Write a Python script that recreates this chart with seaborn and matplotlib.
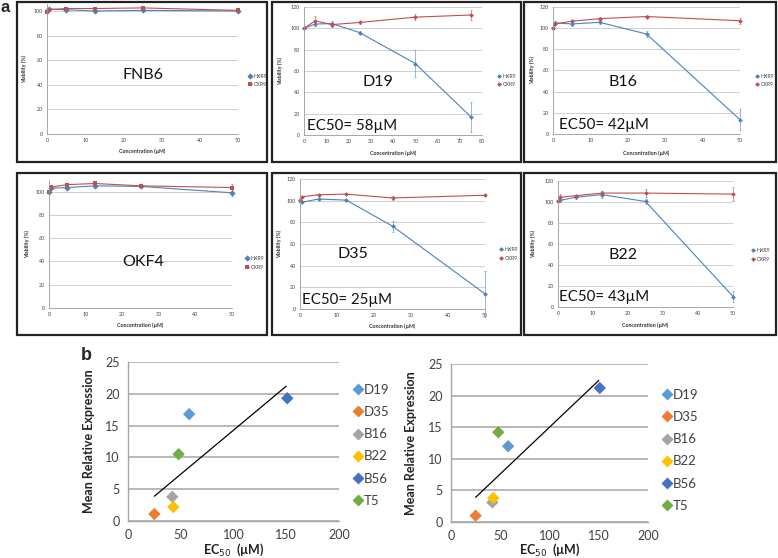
import numpy as np
import pandas as pd
import matplotlib
matplotlib.use("Agg")
from matplotlib import pyplot as plt
from matplotlib.patches import Rectangle
import seaborn as sns

# ---------------- panel a: viability (%) vs concentration (uM) ----------------
conc = [0, 0.5, 5, 12.5, 25, 50]
conc_d19 = [0, 5, 12.5, 25, 50, 75]

fnb6_hxr9 = [100, 101.6, 101, 100, 100.5, 100]
fnb6_hxr9_err = [0.4, 0.5, 0.5, 0.5, 0.5, 0.5]
fnb6_cxr9 = [99.5, 101, 102, 102, 102.5, 100.5]
fnb6_cxr9_err = [0.4, 0.5, 0.5, 0.5, 0.5, 0.5]

d19_hxr9 = [100, 104, 104.5, 96, 67, 17]
d19_hxr9_err = [0.5, 1.5, 2, 1.5, 13, 14]
d19_cxr9 = [100, 107, 103.5, 105.5, 110.5, 112.5]
d19_cxr9_err = [0.5, 4.5, 2, 1, 3, 4.5]

b16_hxr9 = [100, 105, 104, 105.5, 94.5, 13.5]
b16_hxr9_err = [0.5, 1.5, 2, 2, 2.5, 10]
b16_cxr9 = [100, 104, 106.5, 109, 111, 107]
b16_cxr9_err = [0.5, 1, 1, 2, 1, 3]

okf4_hxr9 = [100, 103, 103.5, 105, 104.5, 99]
okf4_hxr9_err = [0.5, 1, 1, 1, 1, 3]
okf4_cxr9 = [100, 104, 106, 107, 105, 103.5]
okf4_cxr9_err = [0.5, 1, 1.5, 1, 1, 3]

d35_hxr9 = [100, 98.5, 101.5, 100.5, 76.5, 14]
d35_hxr9_err = [0.5, 1, 1, 1, 5, 21]
d35_cxr9 = [100.5, 103.5, 105.5, 106, 102.5, 105]
d35_cxr9_err = [0.5, 1, 1, 1, 2, 1]

b22_hxr9 = [100.5, 101.5, 104.5, 107, 100.5, 10]
b22_hxr9_err = [0.5, 1, 2, 3, 2, 5]
b22_cxr9 = [101, 104.5, 106, 108.5, 108.5, 107.5]
b22_cxr9_err = [0.5, 3, 1, 2, 3.5, 7]

# ---------------- panel b: expression vs EC50 ----------------
cell_lines = ["D19", "D35", "B16", "B22", "B56", "T5"]
ec50 = [58, 25, 42, 43, 151, 48]
expr_left = [16.8, 1.1, 3.8, 2.2, 19.3, 10.5]
expr_right = [12.0, 1.0, 3.1, 3.8, 21.2, 14.2]
trend_x = [25, 150]
trend_left = [3.9, 21.2]
trend_right = [3.9, 22.4]
line_colors = ["#5B9BD5", "#ED7D31", "#A5A5A5", "#FFC000", "#4472C4", "#70AD47"]

sns.set_style("white")
plt.rcParams["font.family"] = ["Lato", "DejaVu Sans"]

W, H = 778, 558
fig = plt.figure(figsize=(W / 100, H / 100), dpi=100)


def box(x0, y0, x1, y1):
    return [x0 / W, 1 - y1 / H, (x1 - x0) / W, (y1 - y0) / H]


def fx(x):
    return x / W


def fy(y):
    return 1 - y / H


HX_COL = "#4F81BD"
CX_COL = "#C0504D"


def viability_panel(rect, x, hx, hx_err, cx, cx_err, ymax, xmax, xstep, yticks,
                    name, name_xy, ec_text, ec_xy, leg_xy, ylab_x, xlab_y, cx_marker):
    ax = fig.add_axes(box(*rect))
    n = len(x)
    df = pd.DataFrame({"conc": list(x) * 2, "viability": hx + cx,
                       "series": ["HXR9"] * n + ["CXR9"] * n})
    big = cx_marker == "s"
    sns.lineplot(data=df, x="conc", y="viability", hue="series", style="series",
                 palette={"HXR9": HX_COL, "CXR9": CX_COL},
                 markers={"HXR9": "D", "CXR9": cx_marker}, dashes=False,
                 markersize=3.2 if big else 2.4, markeredgewidth=0, lw=0.8,
                 errorbar=None, sort=False, ax=ax)
    for ln in ax.lines:
        ln.set_clip_on(False)
    ax.errorbar(x, hx, yerr=hx_err, fmt="none", ecolor=HX_COL, elinewidth=0.5,
                capsize=1.0, capthick=0.5, clip_on=False, alpha=0.8)
    ax.errorbar(x, cx, yerr=cx_err, fmt="none", ecolor=CX_COL, elinewidth=0.5,
                capsize=1.0, capthick=0.5, clip_on=False, alpha=0.8)
    ax.set_xlim(0, xmax)
    ax.set_ylim(0, ymax)
    ax.set_xticks(np.arange(0, xmax + 0.1, xstep))
    ax.set_yticks(yticks)
    ax.grid(axis="y", color="#c8c8c8", lw=0.6)
    ax.set_axisbelow(True)
    for s in ["top", "right"]:
        ax.spines[s].set_visible(False)
    for s in ["left", "bottom"]:
        ax.spines[s].set_color("#9a9a9a")
        ax.spines[s].set_linewidth(0.6)
    ax.tick_params(labelsize=3.8, colors="#404040", length=1.5, width=0.5,
                   pad=1.5, direction="out")
    ax.tick_params(axis="both", color="#9a9a9a")
    ax.set_xlabel("Concentration (µM)", fontsize=3.8, fontweight="bold", color="#333333")
    ax.set_ylabel("Viability (%)", fontsize=3.8, fontweight="bold", color="#333333")
    ax.yaxis.set_label_coords(fx(ylab_x), fy((rect[1] + rect[3]) / 2), transform=fig.transFigure)
    ax.xaxis.set_label_coords(fx((rect[0] + rect[2]) / 2), fy(xlab_y), transform=fig.transFigure)
    sns.move_legend(ax, "center left", bbox_to_anchor=(fx(leg_xy[0]), fy(leg_xy[1])),
                    bbox_transform=fig.transFigure, frameon=False, title=None,
                    fontsize=3.8, handlelength=0.6, handletextpad=0.3,
                    labelspacing=0.7, borderpad=0, labelcolor="#404040")
    fig.text(fx(name_xy[0]), fy(name_xy[1]), name, fontsize=11.5, ha="center",
             va="center", color="#111111")
    if ec_text:
        fig.text(fx(ec_xy[0]), fy(ec_xy[1]), ec_text, fontsize=10.8, ha="left",
                 va="center", color="#111111")
    return ax


yt100 = [0, 20, 40, 60, 80, 100]
yt120 = [0, 20, 40, 60, 80, 100, 120]

viability_panel((47, 3.6, 238, 134), conc, fnb6_hxr9, fnb6_hxr9_err, fnb6_cxr9, fnb6_cxr9_err,
                106, 50, 10, yt100, "FNB6", (143, 75), None, None, (246, 80.5), 27, 148, "s")
viability_panel((304, 7, 482, 135), conc_d19, d19_hxr9, d19_hxr9_err, d19_cxr9, d19_cxr9_err,
                120, 80, 10, yt120, "D19", (378, 82), "EC50= 58µM", (307, 126), (495, 80.5), 283, 150, "D")
viability_panel((553, 7, 740, 134), conc, b16_hxr9, b16_hxr9_err, b16_cxr9, b16_cxr9_err,
                120, 50, 10, yt120, "B16", (623, 82), "EC50= 42µM", (559, 125), (753, 80.5), 535, 150, "D")
viability_panel((49, 180, 232, 308), conc, okf4_hxr9, okf4_hxr9_err, okf4_cxr9, okf4_cxr9_err,
                110, 50, 10, yt100, "OKF4", (143, 262), None, None, (243, 263), 30, 322, "s")
viability_panel((300, 179, 485, 309), conc, d35_hxr9, d35_hxr9_err, d35_cxr9, d35_cxr9_err,
                120, 50, 10, yt120, "D35", (353, 254), "EC50= 25µM", (302, 300), (497, 254), 282, 323, "D")
viability_panel((558, 181, 733, 307), conc, b22_hxr9, b22_hxr9_err, b22_cxr9, b22_cxr9_err,
                120, 50, 10, yt120, "B22", (623, 255), "EC50= 43µM", (559, 297), (749, 255), 536, 322, "D")

# frames around the six viability plots
for (x0, y0, x1, y1) in [(17, 2, 267, 162), (272, 2, 521, 162), (524, 2, 776, 162),
                         (17, 173, 267, 335), (272, 173, 521, 335), (524, 173, 776, 335)]:
    fig.add_artist(Rectangle((fx(x0), fy(y1)), (x1 - x0) / W, (y1 - y0) / H,
                             transform=fig.transFigure, fill=False, ec="#222222", lw=1.6))

fig.text(fx(5), fy(8), "a", fontsize=12, fontweight="bold", ha="center", va="center",
         family=["Liberation Sans", "DejaVu Sans"])
fig.text(fx(86), fy(355), "b", fontsize=13, fontweight="bold", ha="center", va="center",
         family=["Liberation Sans", "DejaVu Sans"])


def expression_panel(rect, yvals, trend_y, leg_xy, ylab_x):
    ax = fig.add_axes(box(*rect))
    df = pd.DataFrame({"ec50": ec50, "expr": yvals, "line": cell_lines})
    sns.scatterplot(data=df, x="ec50", y="expr", hue="line", hue_order=cell_lines,
                    palette=line_colors, marker="D", s=40, edgecolor="none", ax=ax, zorder=3)
    sns.lineplot(x=trend_x, y=trend_y, color="black", lw=0.9, ax=ax, zorder=2)
    ax.set_xlim(0, 200)
    ax.set_ylim(0, 25)
    ax.set_xticks([0, 50, 100, 150, 200])
    ax.set_yticks([0, 5, 10, 15, 20, 25])
    ax.grid(axis="y", color="#a6a6a6", lw=1.1)
    ax.set_axisbelow(True)
    for s in ["top", "right"]:
        ax.spines[s].set_visible(False)
    for s in ["left", "bottom"]:
        ax.spines[s].set_color("#a6a6a6")
        ax.spines[s].set_linewidth(1.0)
    ax.tick_params(labelsize=9, colors="#404040", length=3, width=0.8, pad=3)
    ax.tick_params(axis="both", color="#a6a6a6")
    ax.set_xlabel("EC$_{50}$  (µM)", fontsize=9, fontweight="bold", color="#222222")
    ax.set_ylabel("Mean Relative Expression", fontsize=9, fontweight="bold", color="#222222")
    ax.yaxis.set_label_coords(fx(ylab_x), fy((rect[1] + rect[3]) / 2), transform=fig.transFigure)
    ax.xaxis.set_label_coords(fx((rect[0] + rect[2]) / 2), fy(542), transform=fig.transFigure)
    handles, labels = ax.get_legend_handles_labels()
    ax.legend(handles[:6], labels[:6], loc="upper left",
              bbox_to_anchor=(fx(leg_xy[0]), fy(leg_xy[1])),
              bbox_transform=fig.transFigure, frameon=False, fontsize=9.5,
              handlelength=0.6, handletextpad=0.2, labelspacing=0.78, borderpad=0,
              labelcolor="#404040")
    return ax


expression_panel((128, 362, 339, 521), expr_left, trend_left, (347, 377), 95)
expression_panel((451, 364, 648, 522), expr_right, trend_right, (656, 382), 417)

fig.savefig("out.png", dpi=100)
